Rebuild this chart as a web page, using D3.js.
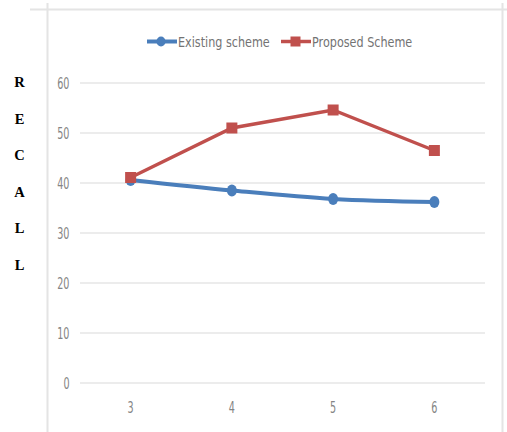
<!DOCTYPE html>
<html><head><meta charset="utf-8">
<script src="https://cdn.jsdelivr.net/npm/d3@7"></script>
<style>body{margin:0;background:#fff}svg{display:block}</style>
</head><body>
<script>
const categories = [3, 4, 5, 6];
const existing = [40.6, 38.5, 36.8, 36.2];
const proposed = [41.1, 51.0, 54.6, 46.5];
const yTicks = [0, 10, 20, 30, 40, 50, 60];
const seriesNames = ["Existing scheme", "Proposed Scheme"];
const axisLetters = ["R", "E", "C", "A", "L", "L"];

const W = 507, H = 432;
const svg = d3.select("body").append("svg").attr("width", W).attr("height", H);
const font = "'DejaVu Sans',sans-serif";

// squeeze text horizontally to mimic a condensed face
function condense(sel, f) {
  sel.each(function () {
    const L = this.getComputedTextLength();
    d3.select(this).attr("textLength", L * f).attr("lengthAdjust", "spacingAndGlyphs");
  });
}

// frame
svg.append("line").attr("x1", 30).attr("x2", 507).attr("y1", 9.5).attr("y2", 9.5).attr("stroke", "#e4e4e4").attr("stroke-width", 2);
svg.append("line").attr("x1", 47.5).attr("x2", 47.5).attr("y1", 3).attr("y2", 432).attr("stroke", "#e4e4e4").attr("stroke-width", 2);
svg.append("line").attr("x1", 502.5).attr("x2", 502.5).attr("y1", 3).attr("y2", 432).attr("stroke", "#e4e4e4").attr("stroke-width", 2);

const x = d3.scaleBand().domain(categories).range([80, 485]);
const y = d3.scaleLinear().domain([0, 60]).range([383, 83]);

// grid
svg.append("g").selectAll("line").data(yTicks).join("line")
  .attr("x1", 80).attr("x2", 485).attr("y1", d => y(d)).attr("y2", d => y(d))
  .attr("stroke", "#d9d9d9").attr("stroke-width", 1.2);

svg.append("g").selectAll("text").data(yTicks).join("text")
  .attr("x", 69.5).attr("y", d => y(d) + 5.5).attr("text-anchor", "end")
  .attr("font-family", font).attr("font-size", 15.5).attr("fill", "#858585").text(d => d)
  .call(condense, 0.62);

svg.append("g").selectAll("text").data(categories).join("text")
  .attr("x", d => x(d) + x.bandwidth() / 2).attr("y", 413).attr("text-anchor", "middle")
  .attr("font-family", font).attr("font-size", 15.5).attr("fill", "#858585").text(d => d)
  .call(condense, 0.62);

// axis letters
svg.append("g").selectAll("text").data(axisLetters).join("text")
  .attr("x", 19.5).attr("y", (d, i) => 82 + i * 36.5).attr("dy", "0.35em").attr("text-anchor", "middle")
  .attr("font-family", "'Liberation Serif',serif").attr("font-weight", "bold").attr("font-size", 14.5).attr("fill", "#000").text(d => d);

const cx = d => x(d) + x.bandwidth() / 2;
const blue = "#4a7ebb", red = "#c0504d";

const lineSmooth = d3.line().x((d, i) => cx(categories[i])).y(d => y(d)).curve(d3.curveMonotoneX);
const lineStraight = d3.line().x((d, i) => cx(categories[i])).y(d => y(d));

svg.append("path").attr("d", lineSmooth(existing)).attr("fill", "none").attr("stroke", blue).attr("stroke-width", 4).attr("stroke-linecap", "round");
svg.append("g").selectAll("ellipse").data(existing).join("ellipse")
  .attr("cx", (d, i) => cx(categories[i])).attr("cy", d => y(d)).attr("rx", 5).attr("ry", 6).attr("fill", blue);

svg.append("path").attr("d", lineStraight(proposed)).attr("fill", "none").attr("stroke", red).attr("stroke-width", 3.5);
svg.append("g").selectAll("rect").data(proposed).join("rect")
  .attr("x", (d, i) => cx(categories[i]) - 5.5).attr("y", d => y(d) - 5.5).attr("width", 11).attr("height", 11).attr("fill", red);

// legend
const lg = svg.append("g");
lg.append("line").attr("x1", 147).attr("x2", 177).attr("y1", 41.5).attr("y2", 41.5).attr("stroke", blue).attr("stroke-width", 4);
lg.append("ellipse").attr("cx", 161).attr("cy", 41.5).attr("rx", 4.5).attr("ry", 5).attr("fill", blue);
lg.append("text").attr("x", 178).attr("y", 46.5).attr("font-family", font).attr("font-size", 14).attr("fill", "#737373").text(seriesNames[0])
  .call(condense, 0.8);
lg.append("line").attr("x1", 281).attr("x2", 311).attr("y1", 41.5).attr("y2", 41.5).attr("stroke", red).attr("stroke-width", 3.5);
lg.append("rect").attr("x", 290.5).attr("y", 36.5).attr("width", 10).attr("height", 10).attr("fill", red);
lg.append("text").attr("x", 312).attr("y", 46.5).attr("font-family", font).attr("font-size", 14).attr("fill", "#737373").text(seriesNames[1])
  .call(condense, 0.8);
</script>
</body></html>
